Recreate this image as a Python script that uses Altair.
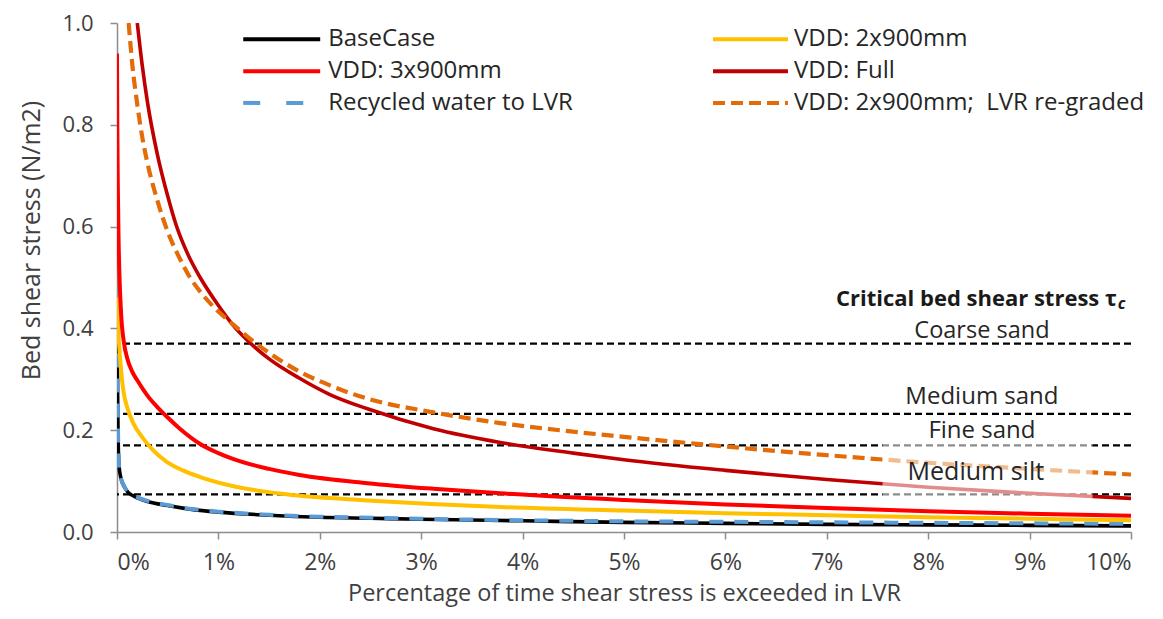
import altair as alt
import pandas as pd

# ---------------- data (x = % of time exceeded, y = bed shear stress N/m2) ----------------
base_x = [0, 0.005, 0.01, 0.02, 0.04, 0.07, 0.1, 0.15, 0.2, 0.3, 0.5, 0.75, 1, 1.5, 2, 2.5, 3, 4, 5, 6, 7, 8, 9, 10]
base_y = [0.40, 0.30, 0.20, 0.13, 0.105, 0.09, 0.08, 0.072, 0.067, 0.06, 0.052, 0.044, 0.039, 0.033, 0.029, 0.027, 0.025, 0.022, 0.019, 0.017, 0.015, 0.014, 0.013, 0.012]

recyc_x = [0, 0.005, 0.01, 0.02, 0.04, 0.07, 0.1, 0.15, 0.2, 0.3, 0.5, 0.75, 1, 1.5, 2, 2.5, 3, 4, 5, 6, 7, 8, 9, 10]
recyc_y = [0.40, 0.30, 0.20, 0.13, 0.105, 0.09, 0.081, 0.073, 0.068, 0.061, 0.053, 0.045, 0.040, 0.034, 0.030, 0.028, 0.026, 0.023, 0.021, 0.020, 0.019, 0.018, 0.017, 0.016]

vdd2_x = [0, 0.005, 0.01, 0.02, 0.035, 0.05, 0.065, 0.1, 0.16, 0.25, 0.35, 0.49, 0.65, 0.82, 1.15, 1.67, 2.47, 3.1, 3.78, 5, 6, 7, 8, 9, 10]
vdd2_y = [0.46, 0.43, 0.405, 0.37, 0.33, 0.298, 0.275, 0.245, 0.214, 0.186, 0.162, 0.138, 0.121, 0.108, 0.09, 0.074, 0.062, 0.055, 0.049, 0.042, 0.037, 0.033, 0.029, 0.026, 0.023]

vdd3_x = [0, 0.003, 0.008, 0.015, 0.025, 0.04, 0.07, 0.1, 0.15, 0.2, 0.3, 0.4, 0.5, 0.62, 0.82, 1.0, 1.15, 1.5, 1.8, 2.47, 3.12, 3.78, 5, 6, 7, 8, 9, 10]
vdd3_y = [0.94, 0.8, 0.68, 0.58, 0.5, 0.43, 0.37, 0.342, 0.315, 0.298, 0.268, 0.245, 0.225, 0.203, 0.173, 0.155, 0.143, 0.124, 0.112, 0.096, 0.085, 0.076, 0.063, 0.054, 0.047, 0.041, 0.036, 0.032]

full_x = [0.2, 0.25, 0.3, 0.4, 0.5, 0.58, 0.7, 0.82, 1.0, 1.15, 1.31, 1.5, 1.8, 2.1, 2.47, 3.12, 3.78, 4.5, 5, 6, 7, 8, 9, 10]
full_y = [1.0, 0.915, 0.845, 0.74, 0.66, 0.605, 0.545, 0.5, 0.445, 0.405, 0.372, 0.34, 0.302, 0.27, 0.242, 0.203, 0.176, 0.155, 0.142, 0.121, 0.103, 0.088, 0.076, 0.066]

regr_x = [0.115, 0.15, 0.2, 0.25, 0.3, 0.4, 0.5, 0.6, 0.72, 0.85, 1.0, 1.15, 1.31, 1.5, 1.8, 2.1, 2.47, 3.12, 3.78, 4.5, 5, 6, 7, 8, 9, 10]
regr_y = [1.0, 0.92, 0.84, 0.775, 0.725, 0.65, 0.59, 0.545, 0.5, 0.465, 0.433, 0.407, 0.38, 0.352, 0.315, 0.288, 0.262, 0.235, 0.214, 0.197, 0.187, 0.168, 0.151, 0.136, 0.124, 0.113]

series_names = ["BaseCase", "VDD: 2x900mm", "VDD: 3x900mm", "VDD: Full",
                "Recycled water to LVR", "VDD: 2x900mm;\u00a0 LVR re-graded"]
series_colors = ["#000000", "#FFC000", "#FF0000", "#C00000", "#5B9BD5", "#E36C09"]

crit_values = [0.37, 0.232, 0.17, 0.074]
crit_labels = ["Coarse sand", "Medium sand", "Fine sand", "Medium silt"]

# ---------------- layout constants ----------------
FONT = "Open Sans"
W, H = 1014, 509

x_scale = alt.Scale(domain=[0, 10], nice=False, zero=False)
y_scale = alt.Scale(domain=[0, 1], nice=False)


def curve(xs, ys, color, width, dash=None):
    df = pd.DataFrame({"x": xs, "y": ys})
    kw = dict(color=color, strokeWidth=width, clip=True, interpolate="monotone")
    if dash:
        kw["strokeDash"] = dash
    return alt.Chart(df).mark_line(**kw).encode(
        x=alt.X("x:Q", scale=x_scale),
        y=alt.Y("y:Q", scale=y_scale),
        order=alt.Order("x:Q"),
    )


# axes carrier
axes = alt.Chart(pd.DataFrame({"x": [0], "y": [0]})).mark_point(opacity=0).encode(
    x=alt.X("x:Q", scale=x_scale,
            axis=alt.Axis(values=list(range(11)), labelExpr="datum.value + '%'",
                          title="Percentage of time shear stress is exceeded in LVR",
                          tickSize=7, labelPadding=12, grid=False, labelFontSize=23,
                          titleFontSize=23.5,
                          titleY=61, titleX=W / 2, titleBaseline="middle")),
    y=alt.Y("y:Q", scale=y_scale,
            axis=alt.Axis(values=[0, 0.2, 0.4, 0.6, 0.8, 1.0], format=".1f",
                          title="Bed shear stress (N/m2)", tickSize=7, labelPadding=17,
                          labelFontSize=22, titleFontSize=25,
                          grid=False, titleX=-86, titleY=217, titleBaseline="middle",
                          titleAlign="center")),
)

crit = alt.Chart(pd.DataFrame({"v": crit_values})).mark_rule(
    color="#000000", strokeWidth=2.3, strokeDash=[7, 4]
).encode(y=alt.Y("v:Q", scale=y_scale))

lines = [
    curve(base_x, base_y, series_colors[0], 3.6),
    curve(recyc_x, recyc_y, series_colors[4], 4, [14, 11]),
    curve(vdd2_x, vdd2_y, series_colors[1], 4),
    curve(vdd3_x, vdd3_y, series_colors[2], 4),
    curve(full_x, full_y, series_colors[3], 3.6),
    curve(regr_x, regr_y, series_colors[5], 4.2, [12, 6]),
]

# semi-transparent box behind "Medium silt" label
box = alt.Chart(pd.DataFrame({"x": [7.55], "x2": [9.62], "y": [0.062], "y2": [0.178]})).mark_rect(
    color="white", opacity=0.55
).encode(x=alt.X("x:Q", scale=x_scale), x2="x2:Q", y=alt.Y("y:Q", scale=y_scale), y2="y2:Q")

ann_df = pd.DataFrame({
    "label": crit_labels,
    "x": [8.53, 8.53, 8.53, 8.47],
    "y": [0.395, 0.265, 0.198, 0.117],
    "size": [23.5, 24, 24, 25],
})
ann = alt.Chart(ann_df).mark_text(font=FONT, color="#262626", align="center", baseline="middle").encode(
    x=alt.X("x:Q", scale=x_scale), y=alt.Y("y:Q", scale=y_scale),
    text="label:N", size=alt.Size("size:Q", scale=None, legend=None),
)

crit_title = alt.Chart(pd.DataFrame({"t": ["Critical bed shear stress \u03c4"], "x": [9.86], "y": [0.458]})).mark_text(
    font=FONT, fontSize=22, fontWeight="bold", color="#1a1a1a", align="right", baseline="middle"
).encode(x=alt.X("x:Q", scale=x_scale), y=alt.Y("y:Q", scale=y_scale), text="t:N")
crit_sub = alt.Chart(pd.DataFrame({"t": ["c"], "x": [9.87], "y": [0.447]})).mark_text(
    font=FONT, fontSize=16, fontWeight="bold", fontStyle="italic", color="#1a1a1a", align="left", baseline="middle"
).encode(x=alt.X("x:Q", scale=x_scale), y=alt.Y("y:Q", scale=y_scale), text="t:N")

# ---------------- legend (two columns) ----------------
leg_col_x0 = [1.245, 5.878]
leg_col_x1 = [2.004, 6.617]
leg_text_x = [2.083, 6.676]
leg_row_y = [0.968, 0.905, 0.843]
leg_dash = [None, None, None, None, [17, 26], [12, 6]]
leg_width = [4, 4, 4, 4, 4, 4]

legend_layers = []
for i, name in enumerate(series_names):
    col, row = i % 2, i // 2
    d = pd.DataFrame({"x": [leg_col_x0[col]], "x2": [leg_col_x1[col]], "y": [leg_row_y[row]],
                      "tx": [leg_text_x[col]], "name": [name]})
    kw = dict(color=series_colors[i], strokeWidth=leg_width[i])
    if leg_dash[i]:
        kw["strokeDash"] = leg_dash[i]
    legend_layers.append(alt.Chart(d).mark_rule(**kw).encode(
        x=alt.X("x:Q", scale=x_scale), x2="x2:Q", y=alt.Y("y:Q", scale=y_scale)))
    legend_layers.append(alt.Chart(d).mark_text(
        font=FONT, fontSize=24, color="#262626", align="left", baseline="middle"
    ).encode(x=alt.X("tx:Q", scale=x_scale), y=alt.Y("y:Q", scale=y_scale), text="name:N"))

chart = alt.layer(axes, crit, *lines, box, ann, crit_title, crit_sub, *legend_layers).properties(
    width=W, height=H,
    autosize=alt.AutoSizeParams(type="none"),
    padding={"left": 109, "top": 15, "right": 22, "bottom": 79},
).configure_view(stroke=None).configure_axis(
    labelFont=FONT, titleFont=FONT,
    labelColor="#404040", titleColor="#404040", titleFontWeight="normal",
    domainColor="#8c8c8c", tickColor="#8c8c8c", domainWidth=1.5, tickWidth=1.5,
)

chart.save("out.html", embed_options={"renderer": "svg", "actions": False})
